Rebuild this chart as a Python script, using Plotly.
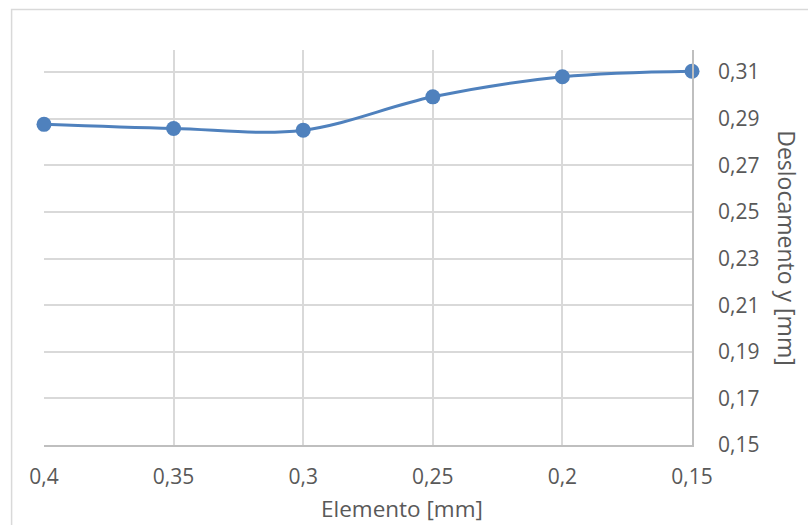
import plotly.graph_objects as go

elemento = [0.4, 0.35, 0.3, 0.25, 0.2, 0.15]
x_labels = ["0,4", "0,35", "0,3", "0,25", "0,2", "0,15"]
deslocamento = [0.2876, 0.2858, 0.2851, 0.2994, 0.3080, 0.3104]
y_ticks = [0.15, 0.17, 0.19, 0.21, 0.23, 0.25, 0.27, 0.29, 0.31]
y_labels = ["0,15", "0,17", "0,19", "0,21", "0,23", "0,25", "0,27", "0,29", "0,31"]

blue = "#4F81BD"
grid = "#D9D9D9"
txt = "#595959"
font_family = "Open Sans, Liberation Sans, sans-serif"

fig = go.Figure()
fig.add_trace(go.Scatter(
    x=elemento, y=deslocamento, mode="lines+markers",
    line=dict(color=blue, width=3, shape="spline", smoothing=1.0),
    marker=dict(color=blue, size=15),
    cliponaxis=False, showlegend=False,
))

fig.update_layout(
    width=808, height=525,
    margin=dict(l=44, r=116, t=50, b=80),
    paper_bgcolor="white", plot_bgcolor="white",
    separators=",.",
    font=dict(family=font_family, color=txt, size=21),
    xaxis=dict(
        range=[0.4, 0.15],
        tickvals=elemento, ticktext=x_labels,
        showgrid=True, gridcolor=grid, gridwidth=1.5,
        showline=True, linecolor="#BFBFBF", linewidth=1.5,
        zeroline=False, ticks="", ticklabelstandoff=12,
        tickfont=dict(size=21, color=txt),
    ),
    yaxis=dict(
        side="right",
        range=[0.15, 0.3195],
        tickvals=y_ticks, ticktext=y_labels,
        showgrid=True, gridcolor=grid, gridwidth=1.5,
        showline=True, linecolor="#BFBFBF", linewidth=1.5,
        zeroline=False, ticks="", ticklabelstandoff=20,
        tickfont=dict(size=21, color=txt),
    ),
    annotations=[
        dict(
            text="Deslocamento y [mm]", textangle=90,
            xref="paper", yref="paper", x=1.147, y=0.5,
            xanchor="center", yanchor="middle", showarrow=False,
            font=dict(size=23, color=txt),
        ),
        dict(
            text="Elemento [mm]",
            xref="paper", yref="paper", x=0.5525, y=-0.162,
            xanchor="center", yanchor="middle", showarrow=False,
            font=dict(size=22.5, color=txt),
        ),
    ],
    shapes=[dict(
        type="rect", xref="paper", yref="paper",
        x0=-0.05, x1=1.4, y0=-0.4, y1=1.1025,
        line=dict(color="#D9D9D9", width=1.5), fillcolor="rgba(0,0,0,0)",
        layer="below",
    )],
)

fig.write_html("out.html", config={"displayModeBar": False},
               post_script="document.body.style.margin='0';")
